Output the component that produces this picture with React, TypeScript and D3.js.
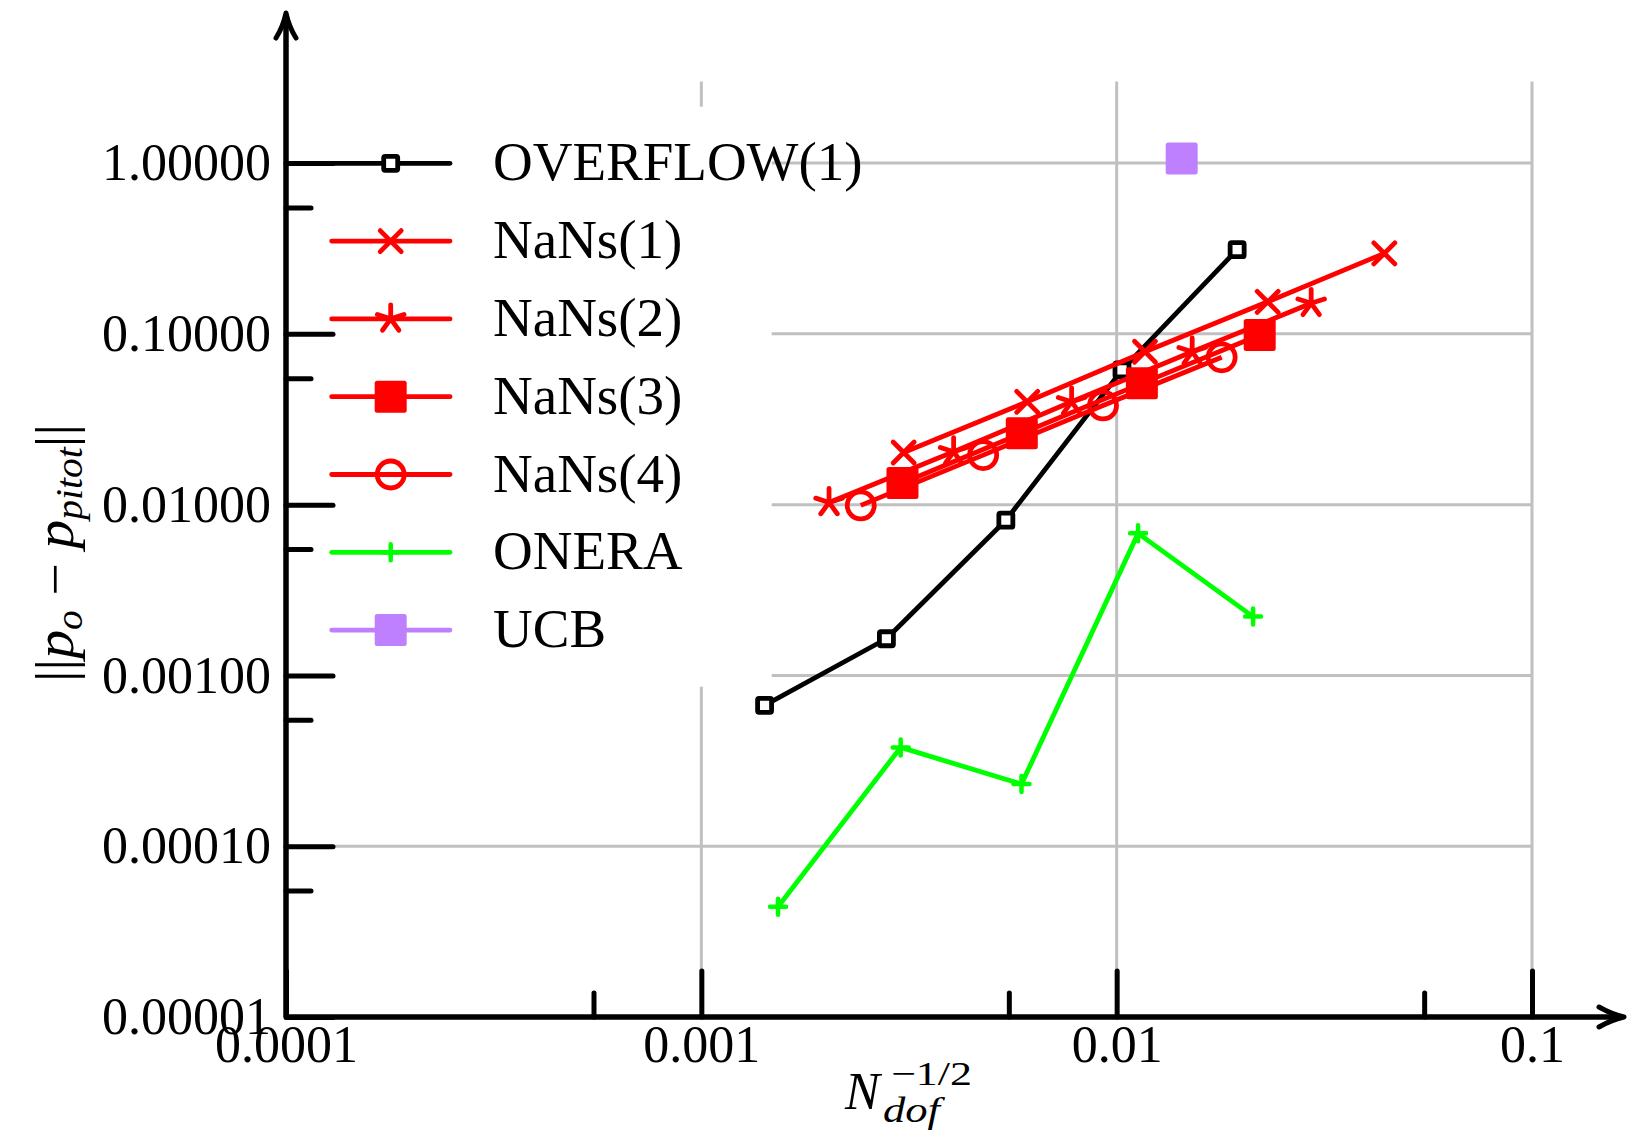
import { axisBottom, axisLeft, format, line, range, scaleLog, select } from "d3";
import { useEffect, useRef } from "react";

// series values (x = N_dof^-1/2, y = error norm)
const overflowX = [0.00142, 0.00279, 0.00541, 0.0103, 0.0195];
const overflowY = [0.000668, 0.00164, 0.00811, 0.0615, 0.311];
const nans1X = [0.00307, 0.00609, 0.0117, 0.0231, 0.0441];
const nans1Y = [0.0202, 0.04, 0.0785, 0.154, 0.296];
const nans2X = [0.00203, 0.00405, 0.00779, 0.0152, 0.0294];
const nans2Y = [0.0103, 0.0204, 0.04, 0.0785, 0.151];
const nans3X = [0.00305, 0.00591, 0.0115, 0.0221];
const nans3Y = [0.0134, 0.0262, 0.0513, 0.0984];
const nans4X = [0.00242, 0.00477, 0.00927, 0.0179];
const nans4Y = [0.0099, 0.0195, 0.0381, 0.0729];
const oneraX = [0.00153, 0.00302, 0.0059, 0.01126, 0.0213];
const oneraY = [0.0000442, 0.000379, 0.000231, 0.00679, 0.00221];
const ucbX = [0.01434];
const ucbY = [1.065];

const legendLabels = ["OVERFLOW(1)", "NaNs(1)", "NaNs(2)", "NaNs(3)", "NaNs(4)", "ONERA", "UCB"];
const seriesColors = ["#000000", "#ff0000", "#ff0000", "#ff0000", "#ff0000", "#00ff00", "#bf80ff"];
const seriesMarkers = ["openSquare", "cross", "star", "filledSquare", "circle", "plus", "filledSquare"];

const xMajorTicks = [1e-4, 1e-3, 1e-2, 1e-1];
const xMinorTicks = [5.5e-4, 5.5e-3, 5.5e-2];
const yMajorTicks = [1e-5, 1e-4, 1e-3, 1e-2, 1e-1, 1];
const yMinorTicks = [5.5e-5, 5.5e-4, 5.5e-3, 5.5e-2, 0.55];
const xGridValues = [1e-3, 1e-2, 1e-1];
const yGridValues = [1e-4, 1e-3, 1e-2, 1e-1, 1];

const FONT = "'Liberation Serif', 'Times New Roman', serif";

const seriesX = [overflowX, nans1X, nans2X, nans3X, nans4X, oneraX, ucbX];
const seriesY = [overflowY, nans1Y, nans2Y, nans3Y, nans4Y, oneraY, ucbY];

export default function App() {
  const width = 1631;
  const height = 1132;
  const left = 286;
  const right = 1532;
  const bottom = 1017;
  const top = 81.6;

  const x = scaleLog().domain([1e-4, 0.1]).range([left, right]);
  const y = scaleLog().domain([1e-5, 3]).range([bottom, top]);

  const series = legendLabels.map((label, i) => ({
    label,
    color: seriesColors[i],
    marker: seriesMarkers[i],
    points: seriesX[i].map((v, j) => ({ x: v, y: seriesY[i][j] })),
  }));

  const path = line<{ x: number; y: number }>()
    .x((d) => x(d.x))
    .y((d) => y(d.y));

  const legend = { x0: 290, x1: 771.7, y0: 106.7, y1: 686.7, first: 163.3, step: 77.8 };

  return (
    <svg width={width} height={height} style={{ position: "absolute", left: 0, top: 0 }}>
      <rect width={width} height={height} fill="white" />

      {/* grid */}
      {xGridValues.map((v) => (
        <line key={`gx-${v}`} x1={x(v)} x2={x(v)} y1={y(3)} y2={bottom} stroke="#c0c0c0" strokeWidth={3} />
      ))}
      {yGridValues.map((v) => (
        <line key={`gy-${v}`} x1={left} x2={right} y1={y(v)} y2={y(v)} stroke="#c0c0c0" strokeWidth={3} />
      ))}

      {/* legend background */}
      <rect x={legend.x0} y={legend.y0} width={legend.x1 - legend.x0} height={legend.y1 - legend.y0} fill="white" />

      {/* data */}
      {series.map((s) => (
        <g key={s.label}>
          {s.points.length > 1 && (
            <path d={path(s.points) ?? ""} fill="none" stroke={s.color} strokeWidth={4.8} strokeLinejoin="round" />
          )}
          {s.points.map((p, j) => (
            <Marker key={j} kind={s.marker} cx={x(p.x)} cy={y(p.y)} color={s.color} />
          ))}
        </g>
      ))}

      {/* legend entries */}
      {series.map((s, i) => {
        const ly = legend.first + i * legend.step;
        return (
          <g key={`leg-${s.label}`}>
            <line x1={331.7} x2={450} y1={ly} y2={ly} stroke={s.color} strokeWidth={4.8} strokeLinecap="round" />
            <Marker kind={s.marker} cx={390.7} cy={ly} color={s.color} />
            <text x={493} y={ly + 17} fontFamily={FONT} fontSize={55} fill="black">
              {s.label}
            </text>
          </g>
        );
      })}

      <AxisBottom scale={x} y={bottom} />
      <AxisLeft scale={y} x={left} />

      {/* axis lines with arrows */}
      <line x1={left} x2={1622} y1={bottom} y2={bottom} stroke="black" strokeWidth={5.5} />
      <line x1={left} x2={left} y1={bottom} y2={14} stroke="black" strokeWidth={5.5} />
      <path
        d={`M${left - 10},38 Q${left - 3},27 ${left},13 Q${left + 3},27 ${left + 10},38`}
        fill="none"
        stroke="black"
        strokeWidth={5}
        strokeLinecap="round"
        strokeLinejoin="round"
      />
      <path
        d={`M1599,${bottom - 10} Q1611,${bottom - 3} 1624,${bottom} Q1611,${bottom + 3} 1599,${bottom + 10}`}
        fill="none"
        stroke="black"
        strokeWidth={5}
        strokeLinecap="round"
        strokeLinejoin="round"
      />

      {/* axis titles */}
      <text x={845} y={1109} fontFamily={FONT} fontSize={52} fontStyle="italic">N</text>
      <text x={883} y={1122} fontFamily={FONT} fontSize={35} fontStyle="italic" textLength={57} lengthAdjust="spacingAndGlyphs">dof</text>
      <text x={891} y={1085} fontFamily={FONT} fontSize={34} textLength={81} lengthAdjust="spacingAndGlyphs">−1/2</text>

      <g transform="translate(73, 553) rotate(-90)">
        <text textAnchor="middle" fontFamily={FONT} fontSize={54} textLength={258} lengthAdjust="spacingAndGlyphs">
          <tspan>||</tspan>
          <tspan fontStyle="italic">p</tspan>
          <tspan fontStyle="italic" fontSize={37} dy={9}>o</tspan>
          <tspan dy={-9}> − </tspan>
          <tspan fontStyle="italic">p</tspan>
          <tspan fontStyle="italic" fontSize={37} dy={9}>pitot</tspan>
          <tspan dy={-9}>||</tspan>
        </text>
      </g>
    </svg>
  );
}

function Marker({ kind, cx, cy, color }: { kind: string; cx: number; cy: number; color: string }) {
  if (kind === "openSquare") {
    return <rect x={cx - 7} y={cy - 7} width={14} height={14} rx={1.5} fill="white" stroke={color} strokeWidth={4.8} />;
  }
  if (kind === "filledSquare") {
    return <rect x={cx - 16} y={cy - 16} width={32} height={32} rx={2.5} fill={color} />;
  }
  if (kind === "circle") {
    return <circle cx={cx} cy={cy} r={13.5} fill="none" stroke={color} strokeWidth={4.8} />;
  }
  if (kind === "cross") {
    const s = 10.5;
    return (
      <path
        d={`M${cx - s},${cy - s}L${cx + s},${cy + s}M${cx - s},${cy + s}L${cx + s},${cy - s}`}
        stroke={color}
        strokeWidth={4.8}
        strokeLinecap="round"
      />
    );
  }
  if (kind === "plus") {
    const s = 8;
    return (
      <path
        d={`M${cx - s},${cy}L${cx + s},${cy}M${cx},${cy - s}L${cx},${cy + s}`}
        stroke={color}
        strokeWidth={4.5}
        strokeLinecap="round"
      />
    );
  }
  // five-armed star
  const r = 14;
  const d = range(5)
    .map((i) => {
      const a = -Math.PI / 2 + (i * 2 * Math.PI) / 5;
      return `M${cx},${cy}L${cx + r * Math.cos(a)},${cy + r * Math.sin(a)}`;
    })
    .join("");
  return <path d={d} stroke={color} strokeWidth={4.8} strokeLinecap="round" />;
}

function styleAxis(g: any) {
  g.attr("font-family", FONT).attr("font-size", 52);
  g.select(".domain").remove();
  g.selectAll(".tick line").attr("stroke-width", 5).attr("stroke-linecap", "round");
  g.selectAll(".tick text").attr("fill", "black");
}

function AxisBottom({ scale, y }: { scale: any; y: number }) {
  const ref = useRef<SVGGElement>(null);

  useEffect(() => {
    if (!ref.current) return;
    const g = select(ref.current);
    g.selectAll("*").remove();
    g.append("g")
      .call(axisBottom(scale).tickValues(xMinorTicks).tickFormat(() => "").tickSizeInner(-24).tickSizeOuter(0))
      .call(styleAxis);
    g.append("g")
      .call(
        axisBottom(scale)
          .tickValues(xMajorTicks)
          .tickFormat((d: any) => String(d))
          .tickSizeInner(-46)
          .tickSizeOuter(0)
          .tickPadding(8)
      )
      .call(styleAxis);
  }, [scale]);

  return <g ref={ref} transform={`translate(0, ${y})`} />;
}

function AxisLeft({ scale, x }: { scale: any; x: number }) {
  const ref = useRef<SVGGElement>(null);

  useEffect(() => {
    if (!ref.current) return;
    const g = select(ref.current);
    g.selectAll("*").remove();
    g.append("g")
      .call(axisLeft(scale).tickValues(yMinorTicks).tickFormat(() => "").tickSizeInner(-25).tickSizeOuter(0))
      .call(styleAxis);
    g.append("g")
      .call(
        axisLeft(scale)
          .tickValues(yMajorTicks)
          .tickFormat(format(".5f"))
          .tickSizeInner(-47)
          .tickSizeOuter(0)
          .tickPadding(15)
      )
      .call(styleAxis);
  }, [scale]);

  return <g ref={ref} transform={`translate(${x}, 0)`} />;
}
